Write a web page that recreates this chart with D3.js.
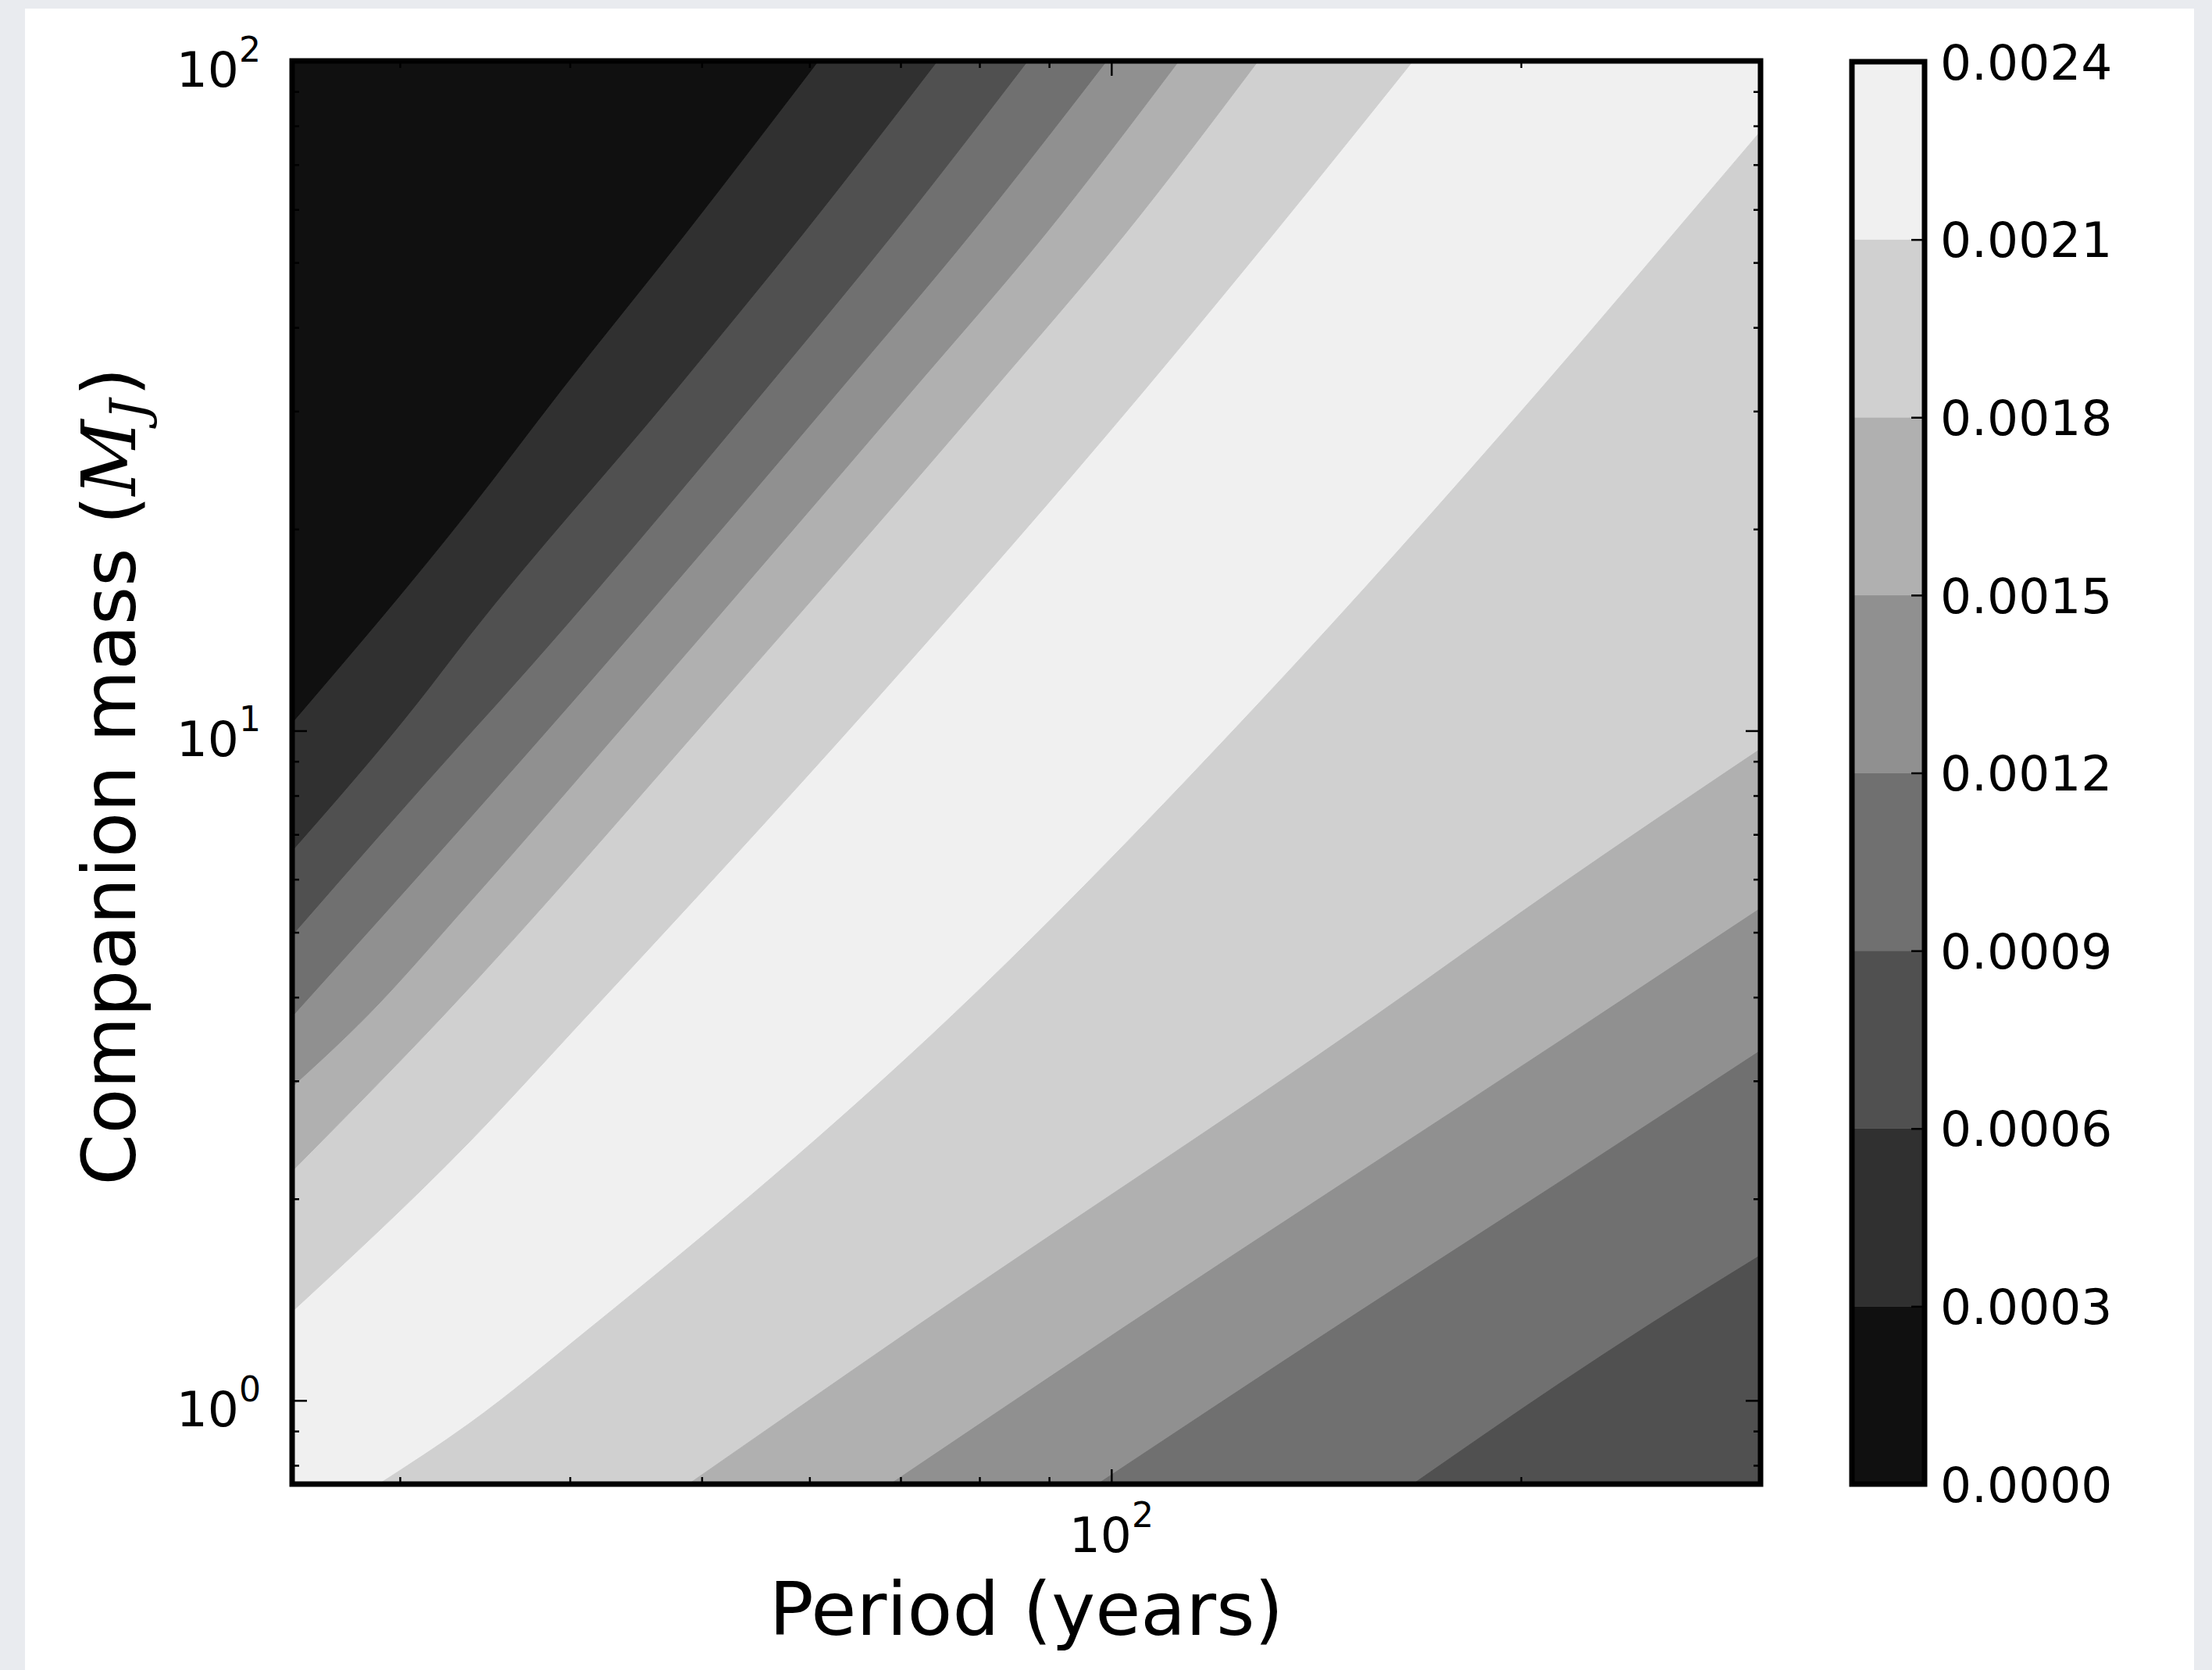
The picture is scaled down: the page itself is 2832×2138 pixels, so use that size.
<!DOCTYPE html>
<html>
<head>
<meta charset="utf-8">
<script src="https://cdn.jsdelivr.net/npm/d3@7"></script>
<style>
  html, body { margin: 0; padding: 0; background: #e9ebef; }
  svg { display: block; }
  text { font-family: "DejaVu Sans", sans-serif; fill: #000; }
</style>
</head>
<body>
<svg id="chart" width="2832" height="2138"></svg>
<script>
// ---------------- DATA ----------------
// contour levels of the filled-contour plot
const levels = [0, 0.0003, 0.0006, 0.0009, 0.0012, 0.0015, 0.0018, 0.0021, 0.0024];

// axis domains
const periodDomain = [25, 300];      // years
const massDomain = [0.75, 100];      // M_J

// contour boundaries, [period (yr), mass (M_J)], on the high-mass side of the ridge
const contour0003Upper = [[25, 10.28], [33.7, 21.3], [39.4, 32.2], [48.6, 55.1], [60.9, 100]];
const contour0006Upper = [[25, 6.62], [30.9, 11.0], [33.7, 13.82], [47.8, 32.2], [59.3, 55.1], [74.5, 100]];
const contour0009Upper = [[25, 4.95], [33.7, 9.85], [35.4, 11.0], [55.6, 32.2], [69.1, 55.1], [86.8, 100]];
const contour0012Upper = [[25, 3.745], [33.7, 7.37], [40.1, 11.0], [63.1, 32.2], [78.8, 55.1], [99.2, 100]];
const contour0015Upper = [[25, 2.94], [28.4, 3.757], [33.7, 5.52], [45.3, 11.0], [71.4, 32.2], [89.4, 55.1], [112.1, 100]];
const contour0018Upper = [[25, 2.20], [32.3, 3.757], [51.7, 11.0], [81.8, 32.2], [102.3, 55.1], [128.2, 100]];
const contour0021Upper = [[25, 1.357], [33.7, 2.425], [41.2, 3.757], [66.8, 11.0], [105.7, 32.2], [131.5, 55.1], [166.6, 100]];

// contour boundaries on the low-mass / long-period side of the ridge
const contour0021Lower = [[28.95, 0.75], [33.7, 0.922], [41.4, 1.283], [76.4, 3.757], [128.4, 11.0], [206.3, 32.2], [258.7, 55.1], [300, 78.5]];
const contour0018Lower = [[48.9, 0.75], [71.6, 1.283], [156.4, 3.757], [214.4, 5.91], [300, 9.39]];
const contour0015Lower = [[68.8, 0.75], [102.0, 1.283], [214.4, 3.457], [300, 5.43]];
const contour0012Lower = [[97.7, 0.75], [145.8, 1.283], [214.4, 2.131], [300, 3.329]];
const contour0009Lower = [[166.6, 0.75], [214.4, 1.066], [246.4, 1.283], [300, 1.647]];

const upperContours = [
  { level: 0.0021, pts: contour0021Upper },
  { level: 0.0018, pts: contour0018Upper },
  { level: 0.0015, pts: contour0015Upper },
  { level: 0.0012, pts: contour0012Upper },
  { level: 0.0009, pts: contour0009Upper },
  { level: 0.0006, pts: contour0006Upper },
  { level: 0.0003, pts: contour0003Upper }
];
const lowerContours = [
  { level: 0.0021, pts: contour0021Lower },
  { level: 0.0018, pts: contour0018Lower },
  { level: 0.0015, pts: contour0015Lower },
  { level: 0.0012, pts: contour0012Lower },
  { level: 0.0009, pts: contour0009Lower }
];

const xLabel = "Period (years)";
const yLabelText = "Companion mass (";

// ---------------- LAYOUT / STYLE ----------------
const W = 2832, H = 2138;
const plot = { left: 374, right: 2254, top: 78, bottom: 1900 };
const cbar = { left: 2371, right: 2464, top: 79, bottom: 1900 };
const tickFont = 63, labelFont = 94.5;
const frameWidth = 7;

const svg = d3.select("#chart");

// page panel
svg.append("rect").attr("x", 32).attr("y", 11).attr("width", 2777).attr("height", H - 11).attr("fill", "#ffffff");

const x = d3.scaleLog().domain(periodDomain).range([plot.left, plot.right]);
const y = d3.scaleLog().domain(massDomain).range([plot.bottom, plot.top]);
const gray = d3.scaleLinear().domain([0, 0.0021]).range(["#101010", "#f0f0f0"]);

// clip
svg.append("defs").append("clipPath").attr("id", "plotClip")
  .append("rect").attr("x", plot.left).attr("y", plot.top)
  .attr("width", plot.right - plot.left).attr("height", plot.bottom - plot.top);

const g = svg.append("g").attr("clip-path", "url(#plotClip)");

// ridge band (0.0021 - 0.0024) as background
g.append("rect").attr("x", plot.left).attr("y", plot.top)
  .attr("width", plot.right - plot.left).attr("height", plot.bottom - plot.top)
  .attr("fill", gray(0.0021));

const step = levels[1] - levels[0];

const upperArea = d3.area()
  .curve(d3.curveMonotoneX)
  .x(d => x(d[0]))
  .y0(y.range()[1])
  .y1(d => y(d[1]));
const lowerArea = d3.area()
  .curve(d3.curveMonotoneX)
  .x(d => x(d[0]))
  .y0(y.range()[0])
  .y1(d => y(d[1]));

g.selectAll("path.upper").data(upperContours).join("path")
  .attr("class", "upper")
  .attr("d", d => upperArea(d.pts))
  .attr("fill", d => gray(d.level - step))
  .attr("stroke", d => gray(d.level - step))
  .attr("stroke-width", 1);

g.selectAll("path.lower").data(lowerContours).join("path")
  .attr("class", "lower")
  .attr("d", d => lowerArea(d.pts))
  .attr("fill", d => gray(d.level - step))
  .attr("stroke", d => gray(d.level - step))
  .attr("stroke-width", 1);

// ---------------- TICKS ----------------
const isPow10 = v => Math.abs(Math.log10(v) - Math.round(Math.log10(v))) < 1e-9;
const xTicks = x.ticks();
const yTicks = y.ticks();
const xMajor = xTicks.filter(isPow10), xMinor = xTicks.filter(v => !isPow10(v));
const yMajor = yTicks.filter(isPow10), yMinor = yTicks.filter(v => !isPow10(v));
const majorLen = 19, minorLen = 9;

function drawAxis(axisGen, scale, vals, len, transform) {
  const a = svg.append("g").attr("transform", transform)
    .call(axisGen(scale).tickValues(vals).tickSize(-len).tickFormat(""));
  a.select(".domain").remove();
  a.selectAll(".tick line").attr("stroke", "#000").attr("stroke-width", 2.5);
}
drawAxis(d3.axisBottom, x, xMinor, minorLen, `translate(0,${plot.bottom})`);
drawAxis(d3.axisBottom, x, xMajor, majorLen, `translate(0,${plot.bottom})`);
drawAxis(d3.axisTop, x, xMinor, minorLen, `translate(0,${plot.top})`);
drawAxis(d3.axisTop, x, xMajor, majorLen, `translate(0,${plot.top})`);
drawAxis(d3.axisLeft, y, yMinor, minorLen, `translate(${plot.left},0)`);
drawAxis(d3.axisLeft, y, yMajor, majorLen, `translate(${plot.left},0)`);
drawAxis(d3.axisRight, y, yMinor, minorLen, `translate(${plot.right},0)`);
drawAxis(d3.axisRight, y, yMajor, majorLen, `translate(${plot.right},0)`);

// frame
svg.append("rect").attr("x", plot.left).attr("y", plot.top)
  .attr("width", plot.right - plot.left).attr("height", plot.bottom - plot.top)
  .attr("fill", "none").attr("stroke", "#000").attr("stroke-width", frameWidth);

// tick labels (10^n)
function powLabel(sel, v) {
  const e = Math.round(Math.log10(v));
  sel.append("tspan").text("10");
  sel.append("tspan").attr("font-size", tickFont * 0.7).attr("dy", -32).text(String(e));
}
svg.selectAll("text.xtick").data(xMajor).join("text")
  .attr("class", "xtick")
  .attr("x", d => x(d)).attr("y", plot.bottom + 87)
  .attr("text-anchor", "middle").attr("font-size", tickFont)
  .each(function (d) { powLabel(d3.select(this), d); });

svg.selectAll("text.ytick").data(yMajor).join("text")
  .attr("class", "ytick")
  .attr("x", plot.left - 40).attr("y", d => y(d) + 33)
  .attr("text-anchor", "end").attr("font-size", tickFont)
  .each(function (d) { powLabel(d3.select(this), d); });

// axis labels
svg.append("text")
  .attr("x", (plot.left + plot.right) / 2).attr("y", 2093)
  .attr("text-anchor", "middle").attr("font-size", labelFont)
  .text(xLabel);

const yl = svg.append("text")
  .attr("transform", `translate(173,${(plot.top + plot.bottom) / 2 + 5}) rotate(-90)`)
  .attr("text-anchor", "middle").attr("font-size", labelFont);
yl.append("tspan").text(yLabelText);
yl.append("tspan").attr("font-family", "'DejaVu Serif', 'Liberation Serif', serif")
  .attr("font-style", "italic").text("M");
yl.append("tspan").attr("font-family", "'DejaVu Serif', 'Liberation Serif', serif")
  .attr("font-style", "italic").attr("font-size", labelFont * 0.7).attr("dy", 14).text("J");
yl.append("tspan").attr("dy", -14).attr("dx", 4).text(")");

// ---------------- COLORBAR ----------------
const c = d3.scaleLinear().domain([levels[0], levels[levels.length - 1]]).range([cbar.bottom, cbar.top]);
const bands = levels.slice(0, -1).map((v, i) => [v, levels[i + 1]]);
svg.selectAll("rect.cband").data(bands).join("rect")
  .attr("class", "cband")
  .attr("x", cbar.left).attr("width", cbar.right - cbar.left)
  .attr("y", d => c(d[1])).attr("height", d => c(d[0]) - c(d[1]))
  .attr("fill", d => gray(d[0]))
  .attr("stroke", d => gray(d[0])).attr("stroke-width", 0.5);

const cAxis = svg.append("g").attr("transform", `translate(${cbar.right},0)`)
  .call(d3.axisRight(c).tickValues(levels.slice(1, -1)).tickSize(-17).tickFormat(""));
cAxis.select(".domain").remove();
cAxis.selectAll(".tick line").attr("stroke", "#000").attr("stroke-width", 2.5);

svg.append("rect").attr("x", cbar.left).attr("y", cbar.top)
  .attr("width", cbar.right - cbar.left).attr("height", cbar.bottom - cbar.top)
  .attr("fill", "none").attr("stroke", "#000").attr("stroke-width", frameWidth);

const fmt = d3.format(".4f");
svg.selectAll("text.clabel").data(levels).join("text")
  .attr("class", "clabel")
  .attr("x", cbar.right + 20).attr("y", d => c(d))
  .attr("dy", "0.36em").attr("font-size", tickFont)
  .text(d => fmt(d));
</script>
</body>
</html>
